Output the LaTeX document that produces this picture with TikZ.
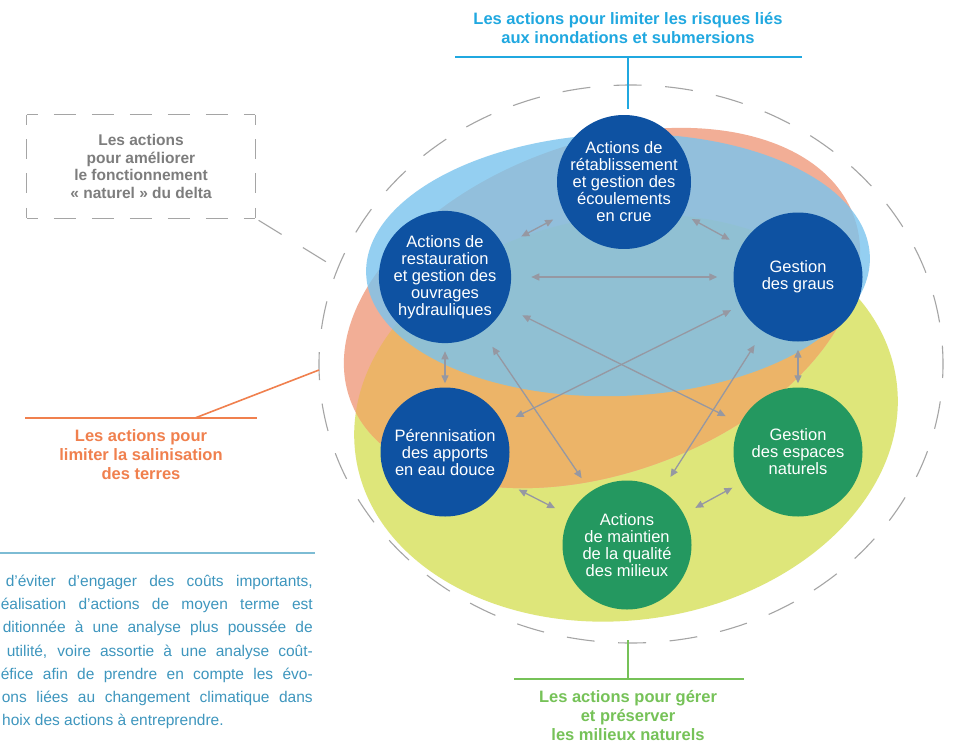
\documentclass[tikz,border=0pt]{standalone}
\usepackage{fontspec}
\setmainfont{Liberation Sans}
\usetikzlibrary{arrows.meta}
\definecolor{cblue}{RGB}{14,82,162}
\definecolor{cgreen}{RGB}{36,152,96}
\definecolor{csky}{RGB}{122,196,238}
\definecolor{csalmon}{RGB}{242,174,150}
\definecolor{cyellow}{RGB}{222,230,122}
\definecolor{corange}{RGB}{236,180,104}
\definecolor{ctitle}{RGB}{32,168,224}
\definecolor{clabgreen}{RGB}{118,194,88}
\definecolor{clabsal}{RGB}{240,128,78}
\definecolor{cgraytxt}{RGB}{125,125,125}
\definecolor{cpara}{RGB}{62,150,190}
\definecolor{cparaline}{RGB}{125,188,212}
\definecolor{cdash}{RGB}{165,165,165}
\definecolor{carrow}{RGB}{150,152,162}
\begin{document}
\begin{tikzpicture}[x=1pt,y=-1pt,
  bnode/.style={circle, fill=cblue, text=white, minimum size=129pt, inner sep=0pt, align=center, font=\fontsize{16.5}{17}\selectfont},
  gnode/.style={bnode, fill=cgreen},
  biarrow/.style={draw=carrow, line width=1.3pt, arrows={Triangle[length=8pt,width=7pt]-Triangle[length=8pt,width=7pt]}},
  ttl/.style={font=\bfseries\fontsize{16.5}{19}\selectfont, align=center},
  para/.style={font=\fontsize{15.5}{23}\selectfont, text=cpara, inner sep=0pt},
  bigdash/.style={draw=cdash, line width=1.1pt, dash pattern=on 28pt off 23.5pt, dash phase=14pt}
]
\useasboundingbox (0,0) rectangle (953,744);
\fill[white] (0,0) rectangle (953,744);

% coloured zones
\fill[cyellow, rotate around={8:(626,418)}] (626,418) ellipse [x radius=273, y radius=202];
\fill[csalmon, rotate around={20:(602,308)}] (602,308) ellipse [x radius=268, y radius=165];
\begin{scope}
  \clip[rotate around={8:(626,418)}] (626,418) ellipse [x radius=273, y radius=202];
  \fill[corange, rotate around={20:(602,308)}] (602,308) ellipse [x radius=268, y radius=165];
\end{scope}
\fill[csky, fill opacity=0.8, rotate around={2:(618,265)}] (618,265) ellipse [x radius=252, y radius=131];

% outer dashed ellipse
\draw[bigdash] (631,364) ellipse [x radius=312, y radius=279];

% action circles
\node[bnode] (n1) at (624,182) {Actions de\\rétablissement\\et gestion des\\écoulements\\en crue};
\node[bnode] (n2) at (445,277) {Actions de\\restauration\\et gestion des\\ouvrages\\hydrauliques};
\node[bnode] (n3) at (798,277) {Gestion\\des graus};
\node[bnode] (n4) at (445,452) {Pérennisation\\des apports\\en eau douce};
\node[gnode] (n5) at (798,452) {Gestion\\des espaces\\naturels};
\node[gnode] (n6) at (627,545) {Actions\\de maintien\\de la qualité\\des milieux};

% connectors
\draw[biarrow, shorten <=20pt, shorten >=13pt] (n2) -- (n1);
\draw[biarrow, shorten <=10pt, shorten >=13pt] (n1) -- (n3);
\draw[biarrow, shorten <=20pt, shorten >=16pt] (n2) -- (n3);
\draw[biarrow, shorten <=8pt, shorten >=4pt] (n2) -- (n4);
\draw[biarrow, shorten <=8pt, shorten >=4pt] (n3) -- (n5);
\draw[biarrow, shorten <=18pt, shorten >=16pt] (n4) -- (n6);
\draw[biarrow, shorten <=13pt, shorten >=10pt] (n6) -- (n5);
\draw[biarrow, shorten <=20pt, shorten >=16pt] (n2) -- (n5);
\draw[biarrow, shorten <=14pt, shorten >=10pt] (n4) -- (n3);
\draw[biarrow, shorten <=18pt, shorten >=16pt] (n2) -- (n6);
\draw[biarrow, shorten <=16pt, shorten >=16pt] (n3) -- (n6);

% top label
\node[ttl, text=ctitle] (ttop) at (628,28) {Les actions pour limiter les risques liés\\aux inondations et submersions};
\coordinate (tbl) at (455,57);
\coordinate (tbr) at (802,57);
\coordinate (tbm) at (628,57);
\coordinate (tbe) at (628,109);
\draw[ctitle, line width=2pt] (tbl) -- (tbr);
\draw[ctitle, line width=2pt] (tbm) -- (tbe);

% bottom label
\node[ttl, text=clabgreen] (tbot) at (628,716) {Les actions pour gérer\\et préserver\\les milieux naturels};
\coordinate (bbl) at (514,679);
\coordinate (bbr) at (744,679);
\coordinate (bbm) at (628,679);
\coordinate (bbe) at (628,640);
\draw[clabgreen, line width=2pt] (bbl) -- (bbr);
\draw[clabgreen, line width=2pt] (bbm) -- (bbe);

% salinisation label
\node[ttl, text=clabsal] (tsal) at (141,455) {Les actions pour\\limiter la salinisation\\des terres};
\coordinate (sbl) at (25,418);
\coordinate (sbr) at (257,418);
\coordinate (sbm) at (195,418);
\coordinate (sbe) at (319,370);
\draw[clabsal, line width=1.6pt] (sbl) -- (sbr);
\draw[clabsal, line width=1.6pt] (sbm) -- (sbe);

% dashed box label
\node[ttl, text=cgraytxt, font=\bfseries\fontsize{15.5}{17.7}\selectfont, minimum width=228pt, minimum height=103pt, inner sep=0pt] (dbox) at (141,166.5) {Les actions\\pour améliorer\\le fonctionnement\\« naturel » du delta};
\draw[cdash, line width=1.1pt, dash pattern=on 22pt off 16pt, dash phase=11pt] (dbox.north west) -- (dbox.north east);
\draw[cdash, line width=1.1pt, dash pattern=on 22pt off 16pt, dash phase=11pt] (dbox.south west) -- (dbox.south east);
\draw[cdash, line width=1.1pt, dash pattern=on 20pt off 14.33pt, dash phase=10pt] (dbox.north west) -- (dbox.south west);
\draw[cdash, line width=1.1pt, dash pattern=on 20pt off 14.33pt, dash phase=10pt] (dbox.north east) -- (dbox.south east);
\coordinate (dboxend) at (328,263);
\draw[cdash, line width=1.1pt, dash pattern=on 27pt off 25pt, shorten <=4pt] (dbox.south east) -- (dboxend);

% paragraph
\coordinate (pl) at (0,553);
\coordinate (pr) at (315,553);
\draw[cparaline, line width=1.5pt] (pl) -- (pr);
\node[para, anchor=base east] (p1) at (313,586) {\makebox[307pt][s]{d’éviter d’engager des coûts importants,}};
\node[para, anchor=base east] (p2) at (313,609.3) {\makebox[312pt][s]{éalisation d’actions de moyen terme est}};
\node[para, anchor=base east] (p3) at (313,632.6) {\makebox[310pt][s]{ditionnée à une analyse plus poussée de}};
\node[para, anchor=base east] (p4) at (313,656) {\makebox[306pt][s]{utilité, voire assortie à une analyse coût-}};
\node[para, anchor=base east] (p5) at (313,679.2) {\makebox[312pt][s]{éfice afin de prendre en compte les évo-}};
\node[para, anchor=base east] (p6) at (313,702.5) {\makebox[311pt][s]{ons liées au changement climatique dans}};
\node[para, anchor=base west] (p7) at (2,725.8) {hoix des actions à entreprendre.};
\end{tikzpicture}
\end{document}
